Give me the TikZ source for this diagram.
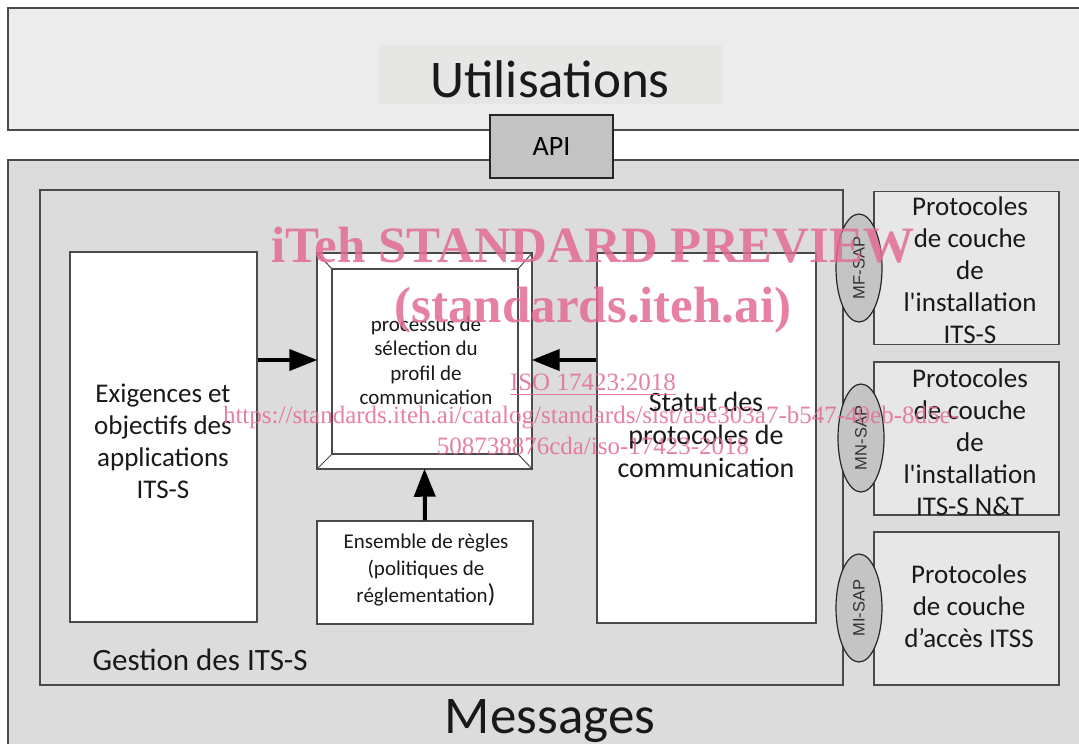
\documentclass[tikz,border=0pt]{standalone}
\usepackage{fontspec}
\setmainfont{Carlito}
\newfontfamily\wmfont{Liberation Serif}
\newfontfamily\sapfont{Liberation Sans}
\usetikzlibrary{arrows.meta,shapes.geometric}
\definecolor{topfill}{HTML}{ECECEC}
\definecolor{labfill}{HTML}{E6E6E4}
\definecolor{botfill}{HTML}{DCDCDC}
\definecolor{apifill}{HTML}{C3C3C3}
\definecolor{protfill}{HTML}{E7E7E7}
\definecolor{sapfill}{HTML}{C4C4C4}
\definecolor{edge}{HTML}{4A4A4A}
\definecolor{wm}{RGB}{226,108,148}
\begin{document}
\begin{tikzpicture}[x=1pt,y=-1pt,
  frame/.style={draw=edge, line width=1.4pt, inner sep=0pt},
  whitebox/.style={frame, fill=white},
  protbox/.style={frame, fill=protfill, minimum width=185pt, minimum height=153pt},
  sap/.style={ellipse, draw=black!85, line width=1.2pt, fill=sapfill, minimum width=46pt, minimum height=108pt, inner sep=0pt},
  saptext/.style={rotate=90, font=\sapfont\fontsize{16.5}{16.5}\selectfont, text=black!80},
  arr/.style={line width=4pt, -{Triangle[length=28pt,width=21pt]}, shorten >=-1pt},
  txtbig/.style={align=center, font=\fontsize{27}{32}\selectfont, text=black!90},
  txtsmall/.style={align=center, font=\fontsize{21}{24.5}\selectfont, text=black!90},
  wmtxt/.style={text=wm, opacity=0.85, inner sep=0pt}
]
\useasboundingbox (0,0) rectangle (1079,744);
\fill[white] (0,0) rectangle (1079,744);

% top layer
\node[frame, fill=topfill, minimum width=1090pt, minimum height=122pt] (top) at (553,69) {};
\node[fill=labfill, minimum width=344pt, minimum height=59pt, inner sep=0pt] (toplab) at (550,74.5) {};
\node[anchor=base, font=\fontsize{53}{53}\selectfont, text=black!90] (util) at (550,97) {Utilisations};

% bottom layer
\node[frame, fill=botfill, minimum width=1090pt, minimum height=600pt] (bot) at (553,460) {};
\node[frame, line width=2.4pt, draw=black!85, fill=apifill, minimum width=123pt, minimum height=63pt, font=\fontsize{28}{28}\selectfont] (api) at (551.5,146.5) {API};

% gestion box
\node[frame, fill=botfill, minimum width=803pt, minimum height=495pt] (gest) at (441.5,437.5) {};
\node[anchor=west, font=\fontsize{31}{31}\selectfont, text=black!90] (gestlab) at (89,660) {Gestion des ITS-S};

% exigences
\node[whitebox, minimum width=187pt, minimum height=370pt] (exi) at (163.5,437) {};
\node[txtbig] (exit) at (163,441) {Exigences et\\objectifs des\\applications\\ITS-S};

% processus (bevel frame)
\node[whitebox, minimum width=215pt, minimum height=216pt] (proc) at (424.5,361) {};
\coordinate (pi1) at (332,269);
\coordinate (pi2) at (518,269);
\coordinate (pi3) at (518,454);
\coordinate (pi4) at (332,454);
\draw[edge, line width=1.4pt] (pi1) rectangle (pi3);
\draw[edge, line width=1pt] (proc.north west) -- (pi1) (proc.north east) -- (pi2) (proc.south east) -- (pi3) (proc.south west) -- (pi4);
\node[txtsmall] (proct) at (426,361) {processus de\\sélection du\\profil de\\communication};

% statut
\node[whitebox, minimum width=219pt, minimum height=370pt] (stat) at (706.5,438) {};
\node[txtbig, font=\fontsize{28}{33}\selectfont] (statt) at (706,435) {Statut des\\protocoles de\\communication};

% ensemble
\node[whitebox, minimum width=216pt, minimum height=103pt] (ens) at (425,572.5) {};
\node[txtsmall, font=\fontsize{21}{27}\selectfont] (enst) at (426,570) {Ensemble de règles\\(politiques de\\réglementation{\fontsize{26}{26}\selectfont)}};

% arrows
\coordinate (ay) at (0,360);
\draw[arr] (exi.east |- ay) -- (proc.west |- ay);
\draw[arr] (stat.west |- ay) -- (proc.east |- ay);
\draw[arr] (ens.north) -- (proc.south);

% protocol boxes
\node[protbox] (p1) at (966.5,268) {};
\node[protbox] (p2) at (966.5,438.5) {};
\node[protbox] (p3) at (966.5,608.5) {};
\node[txtbig] (p1t) at (970,270) {Protocoles\\de couche\\de\\l\textquotesingle installation\\ITS-S};
\node[txtbig] (p2t) at (970,442) {Protocoles\\de couche\\de\\l\textquotesingle installation\\ITS-S N\&T};
\node[txtbig] (p3t) at (969,606) {Protocoles\\de couche\\d’accès ITSS};

% SAP ellipses
\node[sap] (mf) at (859,268) {};
\node[saptext] at (mf) {MF-SAP};
\node[sap] (mn) at (861,438) {};
\node[saptext] at (mn) {MN-SAP};
\node[sap] (mi) at (859,608) {};
\node[saptext] at (mi) {MI-SAP};

% messages
\node[anchor=base, font=\fontsize{53}{53}\selectfont, text=black!90] (msg) at (550,733) {Messages};

% watermark
\node[wmtxt, anchor=base, font=\wmfont\bfseries\fontsize{51}{51}\selectfont] (wm1) at (593,262) {iTeh STANDARD PREVIEW};
\node[wmtxt, anchor=base, font=\wmfont\bfseries\fontsize{51}{51}\selectfont] (wm2) at (593,322) {(standards.iteh.ai)};
\node[wmtxt, anchor=base, font=\wmfont\fontsize{25}{25}\selectfont] (wm3) at (593,390) {ISO 17423:2018};
\draw[wm, opacity=0.85, line width=1pt] (wm3.base west) ++(0,4) -- ([yshift=-4pt]wm3.base east);
\node[wmtxt, anchor=base, font=\wmfont\fontsize{25}{25}\selectfont] (wm4) at (591,423) {https://standards.iteh.ai/catalog/standards/sist/a5e303a7-b547-40eb-8d5e-};
\node[wmtxt, anchor=base, font=\wmfont\fontsize{25}{25}\selectfont] (wm5) at (593,454) {508738876cda/iso-17423-2018};
\end{tikzpicture}
\end{document}
